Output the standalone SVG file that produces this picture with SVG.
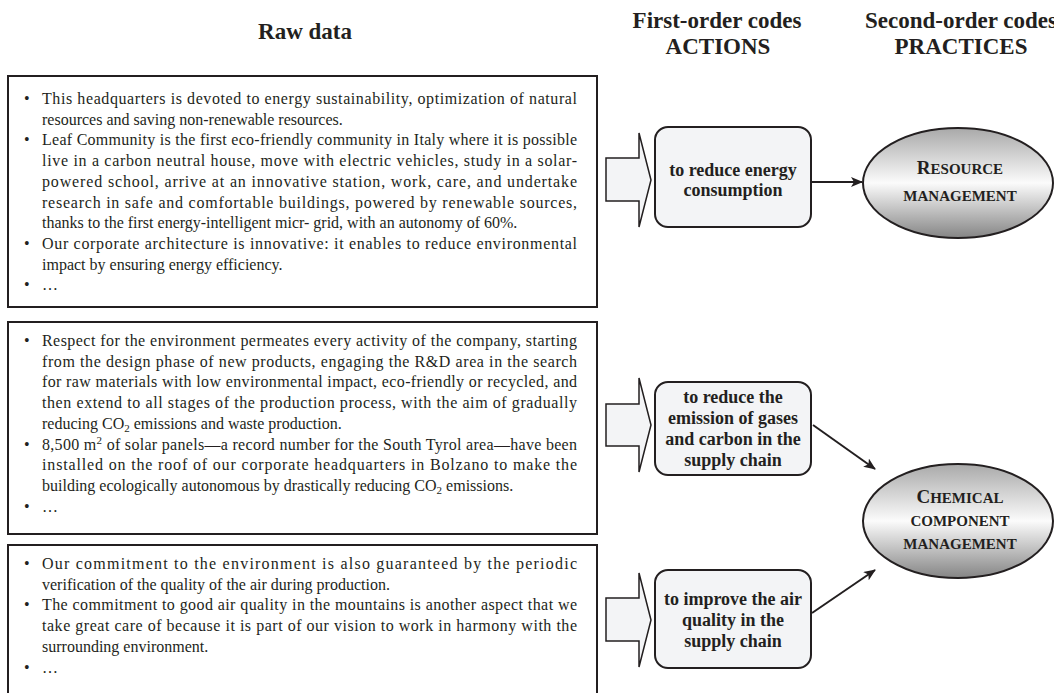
<svg xmlns="http://www.w3.org/2000/svg" width="1054" height="693" viewBox="0 0 1054 693">
<defs>
<style>
.hd{font-family:"Liberation Serif","Times New Roman",serif;font-weight:bold;font-size:23px;fill:#231f20;text-anchor:middle}
.bt{font-family:"Liberation Serif","Times New Roman",serif;font-size:16px;fill:#231f20}
.raw{fill:#fff;stroke:#231f20;stroke-width:2}
.blk{fill:#f3f4f6;stroke:#231f20;stroke-width:1.5;stroke-linejoin:miter}
.act{fill:#f3f4f6;stroke:#231f20;stroke-width:2}
.at{font-family:"Liberation Serif","Times New Roman",serif;font-weight:bold;font-size:18px;fill:#231f20;text-anchor:middle}
.pr{fill:url(#eg);stroke:#231f20;stroke-width:2}
.pt{font-family:"Liberation Serif","Times New Roman",serif;font-weight:bold;font-size:15px;fill:#231f20;text-anchor:middle}
.big{font-size:19px}
.con{stroke:#231f20;stroke-width:2;fill:none;marker-end:url(#ah)}
</style>
<linearGradient id="eg" x1="0" y1="0" x2="0" y2="1">
<stop offset="0" stop-color="#a9a9a9"/>
<stop offset="0.5" stop-color="#fbfbfb"/>
<stop offset="1" stop-color="#858585"/>
</linearGradient>
<marker id="ah" viewBox="0 0 12 10" refX="11" refY="5" markerWidth="12" markerHeight="10" markerUnits="userSpaceOnUse" orient="auto">
<path d="M0,0 L12,5 L0,10 L3,5 z" fill="#231f20"/>
</marker>
</defs>

<g id="headers">
<text class="hd" x="305" y="39">Raw data</text>
<text class="hd" x="717" y="28">First-order codes</text>
<text class="hd" x="718" y="54">ACTIONS</text>
<text class="hd" x="961" y="28">Second-order codes</text>
<text class="hd" x="961" y="54">PRACTICES</text>
</g>

<g id="raw1">
<rect class="raw" x="8" y="76" width="589" height="231"/>
<text class="bt" x="24" y="104">•</text>
<text class="bt" x="42" y="104" textLength="535" lengthAdjust="spacing">This headquarters is devoted to energy sustainability, optimization of natural</text>
<text class="bt" x="42" y="124.7">resources and saving non-renewable resources.</text>
<text class="bt" x="24" y="145.4">•</text>
<text class="bt" x="42" y="145.4" textLength="535" lengthAdjust="spacing">Leaf Community is the first eco-friendly community in Italy where it is possible</text>
<text class="bt" x="42" y="166.1" textLength="535" lengthAdjust="spacing">live in a carbon neutral house, move with electric vehicles, study in a solar-</text>
<text class="bt" x="42" y="186.8" textLength="535" lengthAdjust="spacing">powered school, arrive at an innovative station, work, care, and undertake</text>
<text class="bt" x="42" y="207.5" textLength="535" lengthAdjust="spacing">research in safe and comfortable buildings, powered by renewable sources,</text>
<text class="bt" x="42" y="228.2">thanks to the first energy-intelligent micr- grid, with an autonomy of 60%.</text>
<text class="bt" x="24" y="248.9">•</text>
<text class="bt" x="42" y="248.9" textLength="535" lengthAdjust="spacing">Our corporate architecture is innovative: it enables to reduce environmental</text>
<text class="bt" x="42" y="269.6">impact by ensuring energy efficiency.</text>
<text class="bt" x="24" y="290.3">•</text>
<text class="bt" x="42" y="290.3">…</text>
</g>

<g id="raw2">
<rect class="raw" x="8" y="322" width="589" height="212"/>
<text class="bt" x="24" y="346">•</text>
<text class="bt" x="42" y="346" textLength="535" lengthAdjust="spacing">Respect for the environment permeates every activity of the company, starting</text>
<text class="bt" x="42" y="366.7" textLength="535" lengthAdjust="spacing">from the design phase of new products, engaging the R&amp;D area in the search</text>
<text class="bt" x="42" y="387.4" textLength="535" lengthAdjust="spacing">for raw materials with low environmental impact, eco-friendly or recycled, and</text>
<text class="bt" x="42" y="408.1" textLength="535" lengthAdjust="spacing">then extend to all stages of the production process, with the aim of gradually</text>
<text class="bt" x="42" y="428.8">reducing CO<tspan font-size="11" dy="3">2</tspan><tspan dy="-3"> emissions and waste production.</tspan></text>
<text class="bt" x="24" y="449.5">•</text>
<text class="bt" x="42" y="449.5" textLength="535" lengthAdjust="spacing">8,500 m<tspan font-size="11" dy="-6">2</tspan><tspan dy="6"> of solar panels—a record number for the South Tyrol area—have been</tspan></text>
<text class="bt" x="42" y="470.2" textLength="535" lengthAdjust="spacing">installed on the roof of our corporate headquarters in Bolzano to make the</text>
<text class="bt" x="42" y="490.9">building ecologically autonomous by drastically reducing CO<tspan font-size="11" dy="3">2</tspan><tspan dy="-3"> emissions.</tspan></text>
<text class="bt" x="24" y="511.6">•</text>
<text class="bt" x="42" y="511.6">…</text>
</g>

<g id="raw3">
<rect class="raw" x="8" y="545" width="589" height="160"/>
<text class="bt" x="24" y="569">•</text>
<text class="bt" x="42" y="569" textLength="535" lengthAdjust="spacing">Our commitment to the environment is also guaranteed by the periodic</text>
<text class="bt" x="42" y="589.7">verification of the quality of the air during production.</text>
<text class="bt" x="24" y="610.4">•</text>
<text class="bt" x="42" y="610.4" textLength="535" lengthAdjust="spacing">The commitment to good air quality in the mountains is another aspect that we</text>
<text class="bt" x="42" y="631.1" textLength="535" lengthAdjust="spacing">take great care of because it is part of our vision to work in harmony with the</text>
<text class="bt" x="42" y="651.8">surrounding environment.</text>
<text class="bt" x="24" y="672.5">•</text>
<text class="bt" x="42" y="672.5">…</text>
</g>

<g id="flow1">
<path class="blk" d="M606,158 L639,158 L639,133 L651,180 L639,227 L639,201 L606,201 Z"/>
</g>
<g id="flow2">
<path class="blk" d="M606,404 L639,404 L639,378 L651,425 L639,472 L639,446 L606,446 Z"/>
</g>
<g id="flow3">
<path class="blk" d="M606,598 L639,598 L639,573 L651,620 L639,667 L639,641 L606,641 Z"/>
</g>

<g id="action1">
<rect class="act" x="655" y="127" width="156" height="100" rx="13"/>
<text class="at" x="733" y="176">to reduce energy</text>
<text class="at" x="733" y="196">consumption</text>
</g>
<g id="action2">
<rect class="act" x="655" y="382" width="156" height="93" rx="13"/>
<text class="at" x="733" y="403">to reduce the</text>
<text class="at" x="733" y="424">emission of gases</text>
<text class="at" x="733" y="445">and carbon in the</text>
<text class="at" x="733" y="466">supply chain</text>
</g>
<g id="action3">
<rect class="act" x="655" y="570" width="156" height="98" rx="13"/>
<text class="at" x="733" y="605">to improve the air</text>
<text class="at" x="733" y="626">quality in the</text>
<text class="at" x="733" y="647">supply chain</text>
</g>

<g id="practice1">
<ellipse class="pr" cx="958" cy="183" rx="95" ry="55"/>
<text class="pt" x="960" y="174"><tspan class="big">R</tspan>ESOURCE</text>
<text class="pt" x="960" y="201">MANAGEMENT</text>
</g>
<g id="practice2">
<ellipse class="pr" cx="958" cy="521" rx="95" ry="57"/>
<text class="pt" x="960" y="503"><tspan class="big">C</tspan>HEMICAL</text>
<text class="pt" x="960" y="526">COMPONENT</text>
<text class="pt" x="960" y="549">MANAGEMENT</text>
</g>

<g id="connectors">
<line class="con" x1="812" y1="182" x2="862" y2="182"/>
<line class="con" x1="813" y1="425" x2="875" y2="469"/>
<line class="con" x1="812" y1="613" x2="875" y2="570"/>
</g>
</svg>
